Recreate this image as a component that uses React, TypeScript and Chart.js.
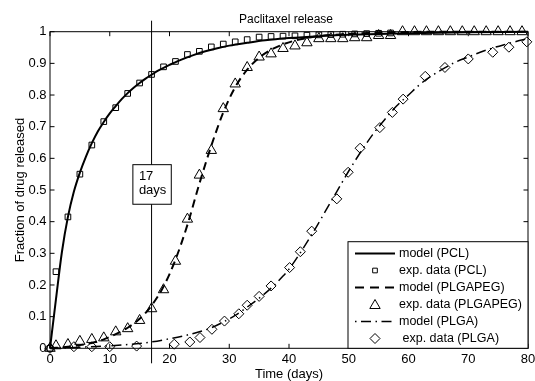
import React, { useEffect, useRef } from "react";
import { Chart, registerables } from "chart.js";

Chart.register(...registerables);

const FONT = "'Liberation Sans', Arial, Helvetica, sans-serif";

const chartTitle = "Paclitaxel release";
const xAxisTitle = "Time (days)";
const yAxisTitle = "Fraction of drug released";
const xTickValues = [0, 10, 20, 30, 40, 50, 60, 70, 80];
const xTickLabels = ["0", "10", "20", "30", "40", "50", "60", "70", "80"];
const yTickValues = [0, 0.1, 0.2, 0.3, 0.4, 0.5, 0.6, 0.7, 0.8, 0.9, 1];
const yTickLabels = ["0", "0.1", "0.2", "0.3", "0.4", "0.5", "0.6", "0.7", "0.8", "0.9", "1"];

const legendLabels = [
  "model (PCL)",
  "exp. data (PCL)",
  "model (PLGAPEG)",
  "exp. data (PLGAPEG)",
  "model (PLGA)",
  " exp. data (PLGA)",
];

const markerDay = 17;
const markerText = ["17", "days"];
const markerBoxTop = 0.58;
const markerBoxBottom = 0.455;

const pclModelDays = [0, 1, 2, 3, 4, 5, 6, 7, 8, 9, 10, 11, 12, 13, 14, 15, 16, 17, 18, 19, 20, 22, 24, 26, 28, 30, 33, 36, 40, 45, 50, 55, 60, 70, 80];
const pclModelValues = [0, 0.155, 0.305, 0.415, 0.495, 0.555, 0.605, 0.648, 0.685, 0.715, 0.742, 0.765, 0.787, 0.806, 0.823, 0.838, 0.852, 0.864, 0.876, 0.886, 0.895, 0.912, 0.926, 0.938, 0.948, 0.956, 0.965, 0.973, 0.98, 0.986, 0.99, 0.993, 0.995, 0.998, 1.0];

const pclExpDays = [0, 1, 3, 5, 7, 9, 11, 13, 15, 17, 19, 21, 23, 25, 27, 29, 31, 33, 35, 37, 39, 41, 43, 45, 47, 49, 51, 53, 55, 57];
const pclExpValues = [0, 0.242, 0.415, 0.55, 0.642, 0.716, 0.76, 0.805, 0.838, 0.865, 0.889, 0.906, 0.928, 0.938, 0.952, 0.961, 0.968, 0.975, 0.983, 0.985, 0.986, 0.987, 0.989, 0.99, 0.991, 0.992, 0.993, 0.994, 0.995, 0.996];

const pegModelDays = [0, 3, 5, 7, 9, 11, 13, 15, 17, 19, 21, 23, 25, 27, 29, 31, 33, 35, 37, 39, 41, 43, 45, 50, 55, 60, 70, 80];
const pegModelValues = [0, 0.005, 0.01, 0.017, 0.028, 0.045, 0.065, 0.093, 0.135, 0.195, 0.28, 0.39, 0.52, 0.64, 0.745, 0.825, 0.88, 0.918, 0.943, 0.96, 0.972, 0.98, 0.986, 0.993, 0.997, 0.999, 1, 1];

const pegExpDays = [0, 1, 3, 5, 7, 9, 11, 13, 15, 17, 19, 21, 23, 25, 27, 29, 31, 33, 35, 37, 39, 41, 43, 45, 47, 49, 51, 53, 55, 57, 59, 61, 63, 65, 67, 69, 71, 73, 75, 77, 79];
const pegExpValues = [0, 0.008, 0.012, 0.022, 0.028, 0.033, 0.052, 0.062, 0.088, 0.125, 0.185, 0.275, 0.408, 0.547, 0.625, 0.757, 0.835, 0.887, 0.92, 0.93, 0.947, 0.955, 0.965, 0.978, 0.978, 0.978, 0.981, 0.981, 0.988, 0.988, 1, 1, 1, 1, 1, 1, 1, 1, 1, 1, 1];

const plgaModelDays = [0, 5, 10, 13, 15, 17, 20, 23, 25, 27, 29, 31, 33, 35, 37, 39, 40, 42, 44, 46, 48, 50, 52, 54, 56, 58, 60, 62, 64, 66, 68, 70, 72, 74, 76, 78, 80];
const plgaModelValues = [0, 0.003, 0.008, 0.012, 0.015, 0.02, 0.03, 0.042, 0.052, 0.065, 0.083, 0.104, 0.13, 0.158, 0.19, 0.228, 0.25, 0.305, 0.365, 0.43, 0.495, 0.56, 0.62, 0.675, 0.722, 0.765, 0.8, 0.835, 0.862, 0.885, 0.905, 0.92, 0.935, 0.948, 0.959, 0.969, 0.978];

const plgaExpDays = [0, 4, 7, 10, 14.5, 20.8, 23.4, 25.1, 27.1, 29.2, 31.6, 33, 35, 37, 40.1, 41.9, 43.8, 48, 49.9, 51.9, 55.2, 57.3, 59.1, 62.8, 66.1, 70, 74.1, 76.8, 79.8];
const plgaExpValues = [0, 0.005, 0.005, 0.005, 0.007, 0.013, 0.02, 0.034, 0.06, 0.086, 0.109, 0.136, 0.164, 0.197, 0.255, 0.305, 0.37, 0.472, 0.556, 0.632, 0.697, 0.745, 0.787, 0.859, 0.887, 0.914, 0.935, 0.951, 0.968];

const DASHED = [8, 5];
const DASHDOT = [10, 4.5, 1.5, 4.5];

const zip = (xs: number[], ys: number[]) => xs.map((x, i) => ({ x, y: ys[i] }));

function drawMarker(ctx: CanvasRenderingContext2D, style: string, x: number, y: number, r: number) {
  ctx.beginPath();
  if (style === "rect") {
    const s = Math.SQRT1_2 * r;
    ctx.rect(x - s, y - s, 2 * s, 2 * s);
  } else if (style === "triangle") {
    for (let k = 0; k < 3; k++) {
      const a = (k * 2 * Math.PI) / 3;
      const px = x + Math.sin(a) * r;
      const py = y - Math.cos(a) * r;
      if (k === 0) ctx.moveTo(px, py);
      else ctx.lineTo(px, py);
    }
    ctx.closePath();
  } else {
    ctx.moveTo(x - r, y);
    ctx.lineTo(x, y - r);
    ctx.lineTo(x + r, y);
    ctx.lineTo(x, y + r);
    ctx.closePath();
  }
  ctx.stroke();
}

const overlayPlugin = {
  id: "overlay",
  afterDraw(chart: any) {
    const { ctx, chartArea: a, scales } = chart;
    const xs = scales.x;
    const ys = scales.y;
    ctx.save();
    ctx.strokeStyle = "#000";
    ctx.fillStyle = "#000";
    ctx.lineWidth = 1;
    ctx.setLineDash([]);

    // axes box
    ctx.strokeRect(a.left, a.top, a.right - a.left, a.bottom - a.top);
    // inward tick marks
    const tl = 4.5;
    ctx.beginPath();
    xTickValues.forEach((v) => {
      const p = xs.getPixelForValue(v);
      ctx.moveTo(p, a.bottom);
      ctx.lineTo(p, a.bottom - tl);
      ctx.moveTo(p, a.top);
      ctx.lineTo(p, a.top + tl);
    });
    yTickValues.forEach((v) => {
      const p = ys.getPixelForValue(v);
      ctx.moveTo(a.left, p);
      ctx.lineTo(a.left + tl, p);
      ctx.moveTo(a.right, p);
      ctx.lineTo(a.right - tl, p);
    });
    ctx.stroke();

    // title
    ctx.font = `12px ${FONT}`;
    ctx.textAlign = "center";
    ctx.textBaseline = "alphabetic";
    ctx.fillText(chartTitle, (a.left + a.right) / 2 - 3, 22.5);

    // vertical marker line
    const mx = xs.getPixelForValue(markerDay);
    ctx.beginPath();
    ctx.moveTo(mx, a.top - 11);
    ctx.lineTo(mx, a.bottom + 15);
    ctx.stroke();

    // marker box
    const bt = ys.getPixelForValue(markerBoxTop);
    const bb = ys.getPixelForValue(markerBoxBottom);
    const bl = mx - 18.7;
    const bw = 38.4;
    ctx.fillStyle = "#fff";
    ctx.fillRect(bl, bt, bw, bb - bt);
    ctx.strokeRect(bl, bt, bw, bb - bt);
    ctx.fillStyle = "#000";
    ctx.font = `13px ${FONT}`;
    ctx.textAlign = "left";
    ctx.fillText(markerText[0], bl + 6, bt + 15.5);
    ctx.fillText(markerText[1], bl + 6, bt + 29.5);

    // legend
    const lw = 180;
    const lh = 106.6;
    const ll = a.right - lw;
    const lt = a.bottom - lh;
    ctx.fillStyle = "#fff";
    ctx.fillRect(ll, lt, lw, lh);
    ctx.strokeRect(ll, lt, lw, lh);
    ctx.fillStyle = "#000";
    ctx.font = `12.5px ${FONT}`;
    ctx.textBaseline = "middle";
    legendLabels.forEach((label, i) => {
      const cy = lt + 11.8 + i * 17;
      const x0 = ll + 7;
      const x1 = ll + 47;
      if (i === 0 || i === 2 || i === 4) {
        ctx.beginPath();
        ctx.lineWidth = i === 4 ? 1.5 : 2;
        ctx.setLineDash(i === 0 ? [] : i === 2 ? [9, 6] : DASHDOT);
        ctx.lineDashOffset = i === 4 ? 14.5 : 0;
        ctx.moveTo(x0, cy);
        ctx.lineTo(x1, cy);
        ctx.stroke();
        ctx.setLineDash([]);
        ctx.lineDashOffset = 0;
      } else {
        ctx.lineWidth = 1;
        const style = i === 1 ? "rect" : i === 3 ? "triangle" : "rectRot";
        const r = i === 1 ? 3.3 : i === 3 ? 6 : 5;
        drawMarker(ctx, style, (x0 + x1) / 2, cy + (i === 3 ? 1 : 0), r);
      }
      ctx.fillText(label, ll + 51, cy + 0.5);
    });
    ctx.restore();
  },
};

export default function App() {
  const ref = useRef<HTMLCanvasElement | null>(null);

  useEffect(() => {
    if (!ref.current) return;
    const tickFont = { family: FONT, size: 13 };
    const chart = new Chart(ref.current, {
      type: "scatter",
      data: {
        datasets: [
          {
            label: legendLabels[0],
            data: zip(pclModelDays, pclModelValues),
            showLine: true,
            borderColor: "#000",
            borderWidth: 2,
            pointRadius: 0,
            cubicInterpolationMode: "monotone",
            clip: false,
          } as any,
          {
            label: legendLabels[1],
            data: zip(pclExpDays, pclExpValues),
            showLine: false,
            pointStyle: "rect",
            pointRadius: 4,
            borderColor: "#000",
            backgroundColor: "rgba(0,0,0,0)",
            borderWidth: 1,
            clip: false,
          },
          {
            label: legendLabels[2],
            data: zip(pegModelDays, pegModelValues),
            showLine: true,
            borderColor: "#000",
            borderWidth: 2,
            borderDash: DASHED,
            pointRadius: 0,
            cubicInterpolationMode: "monotone",
            clip: false,
          } as any,
          {
            label: legendLabels[3],
            data: zip(pegExpDays, pegExpValues),
            showLine: false,
            pointStyle: "triangle",
            pointRadius: 6,
            borderColor: "#000",
            backgroundColor: "rgba(0,0,0,0)",
            borderWidth: 1,
            clip: false,
          },
          {
            label: legendLabels[4],
            data: zip(plgaModelDays, plgaModelValues),
            showLine: true,
            borderColor: "#000",
            borderWidth: 1.5,
            borderDash: DASHDOT,
            pointRadius: 0,
            cubicInterpolationMode: "monotone",
            clip: false,
          } as any,
          {
            label: legendLabels[5],
            data: zip(plgaExpDays, plgaExpValues),
            showLine: false,
            pointStyle: "rectRot",
            pointRadius: 5,
            borderColor: "#000",
            backgroundColor: "rgba(0,0,0,0)",
            borderWidth: 1,
            clip: false,
          },
        ],
      },
      options: {
        responsive: false,
        animation: false,
        devicePixelRatio: 1,
        events: [],
        layout: { padding: { left: 0, top: 31.7, right: 5, bottom: 0 } },
        plugins: {
          legend: { display: false },
          title: { display: false },
          tooltip: { enabled: false },
        },
        scales: {
          x: {
            type: "linear",
            position: "bottom",
            min: 0,
            max: 80,
            grid: { display: false, drawTicks: false },
            border: { display: false },
            ticks: {
              font: tickFont,
              color: "#000",
              padding: 3,
              maxRotation: 0,
              autoSkip: false,
              callback: (_v: any, i: number) => xTickLabels[i],
            },
            afterBuildTicks: (s: any) => {
              s.ticks = xTickValues.map((v) => ({ value: v }));
            },
            afterFit: (s: any) => {
              s.height = 32.7;
              s.paddingLeft = 0;
              s.paddingRight = 0;
            },
            title: {
              display: true,
              text: xAxisTitle,
              color: "#000",
              font: { family: FONT, size: 13, lineHeight: 1 },
              padding: { top: 0, bottom: 0 },
            },
          },
          y: {
            type: "linear",
            position: "left",
            min: 0,
            max: 1,
            grid: { display: false, drawTicks: false },
            border: { display: false },
            ticks: {
              font: tickFont,
              color: "#000",
              padding: 3.5,
              autoSkip: false,
              callback: (_v: any, i: number) => yTickLabels[i],
            },
            afterBuildTicks: (s: any) => {
              s.ticks = yTickValues.map((v) => ({ value: v }));
            },
            afterFit: (s: any) => {
              s.width = 50;
              s.paddingTop = 0;
              s.paddingBottom = 0;
            },
            title: {
              display: true,
              text: yAxisTitle,
              color: "#000",
              font: { family: FONT, size: 13, lineHeight: 1 },
              padding: { top: 14, bottom: 0 },
            },
          },
        },
      } as any,
      plugins: [overlayPlugin],
    });
    return () => chart.destroy();
  }, []);

  return (
    <div style={{ position: "absolute", left: 0, top: 0, width: 535, height: 381, background: "#fff" }}>
      <canvas ref={ref} width={535} height={381} style={{ display: "block", width: 535, height: 381 }} />
    </div>
  );
}
